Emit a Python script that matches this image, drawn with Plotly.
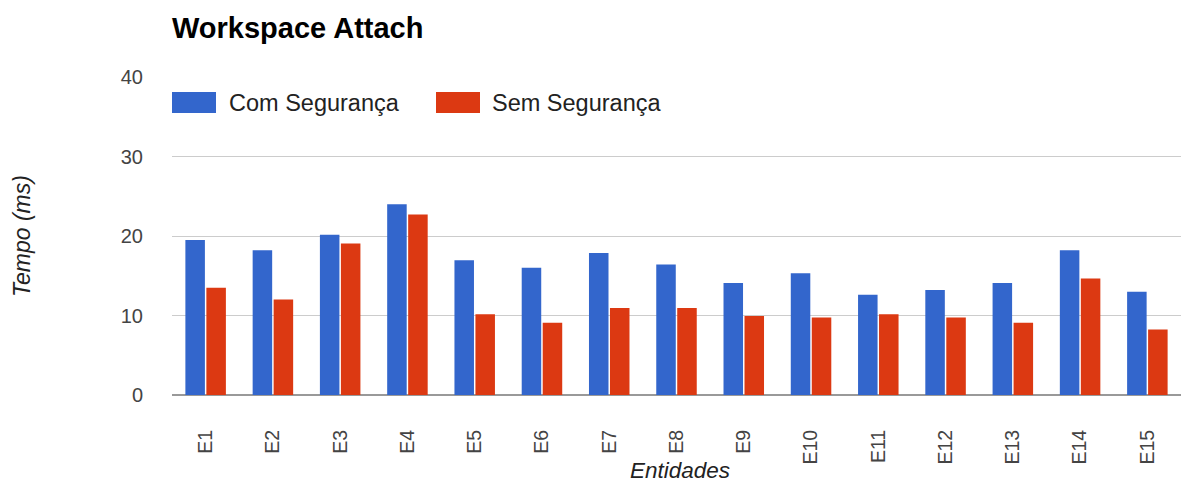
import plotly.graph_objects as go

categories = ["E1", "E2", "E3", "E4", "E5", "E6", "E7", "E8", "E9", "E10",
              "E11", "E12", "E13", "E14", "E15"]
com_seguranca = [19.5, 18.2, 20.15, 24.0, 16.95, 16.0, 17.85, 16.4, 14.1, 15.3,
                 12.6, 13.2, 14.1, 18.2, 13.0]
sem_seguranca = [13.5, 12.0, 19.05, 22.7, 10.15, 9.1, 10.95, 10.95, 9.95, 9.75,
                 10.15, 9.75, 9.1, 14.65, 8.25]
series_names = ["Com Segurança", "Sem Segurança"]
series_colors = ["#3366CC", "#DC3912"]
y_ticks = [0, 10, 20, 30, 40]

W, H = 1185, 482
ML, MR, MT, MB = 172, 4, 77, 87
PW, PH = W - ML - MR, H - MT - MB
FONT = "Liberation Sans, Arial, sans-serif"


def px_x(px):
    return (px - ML) / PW


def px_y(py):
    return (H - MB - py) / PH


fig = go.Figure()
for name, vals, col in zip(series_names, [com_seguranca, sem_seguranca], series_colors):
    fig.add_trace(go.Bar(x=categories, y=vals, name=name, marker_color=col,
                         marker_line_width=0, showlegend=False))

# custom legend (Google Charts style)
shapes = []
annotations = []
legend_items = [(172, 227), (436, 490)]
for (rx, tx), name, col in zip(legend_items, series_names, series_colors):
    shapes.append(dict(type="rect", xref="paper", yref="paper",
                       x0=px_x(rx), x1=px_x(rx + 44), y0=px_y(113), y1=px_y(92),
                       fillcolor=col, line_width=0, layer="above"))
    annotations.append(dict(xref="paper", yref="paper", x=px_x(tx), y=px_y(103),
                            xanchor="left", yanchor="middle", text=name, showarrow=False,
                            font=dict(family=FONT, size=23.5, color="#222222")))

# x axis title
annotations.append(dict(xref="paper", yref="paper", x=px_x(680), y=px_y(470),
                        xanchor="center", yanchor="middle", text="<i>Entidades</i>",
                        showarrow=False, font=dict(family=FONT, size=22.5, color="#222222")))

fig.update_layout(
    width=W, height=H,
    margin=dict(l=ML, r=MR, t=MT, b=MB, autoexpand=False),
    paper_bgcolor="white", plot_bgcolor="white",
    barmode="group", bargap=0.376, bargroupgap=0.07,
    title=dict(text="<b>Workspace Attach</b>", xref="paper", x=0, xanchor="left",
               yref="container", y=1 - 28 / H, yanchor="middle",
               font=dict(family=FONT, size=29, color="#000000")),
    font=dict(family=FONT, color="#444444"),
    shapes=shapes,
    annotations=annotations,
    xaxis=dict(tickangle=-90, tickfont=dict(size=19.5, color="#444444"),
               ticks="outside", ticklen=26, tickcolor="rgba(0,0,0,0)",
               showline=False, showgrid=False),
    yaxis=dict(range=[0, 40], tickvals=y_ticks, tickfont=dict(size=20, color="#444444"),
               ticks="outside", ticklen=24, tickcolor="rgba(0,0,0,0)",
               showgrid=True, gridcolor="#cccccc", gridwidth=1,
               zeroline=True, zerolinecolor="#999999", zerolinewidth=2,
               showline=False,
               title=dict(text="<i>Tempo (ms)</i>", standoff=83,
                          font=dict(family=FONT, size=23, color="#222222"))),
)

fig.write_html("out.html", config={"displayModeBar": False},
               post_script="document.body.style.margin='0px';document.body.style.padding='0px';")
